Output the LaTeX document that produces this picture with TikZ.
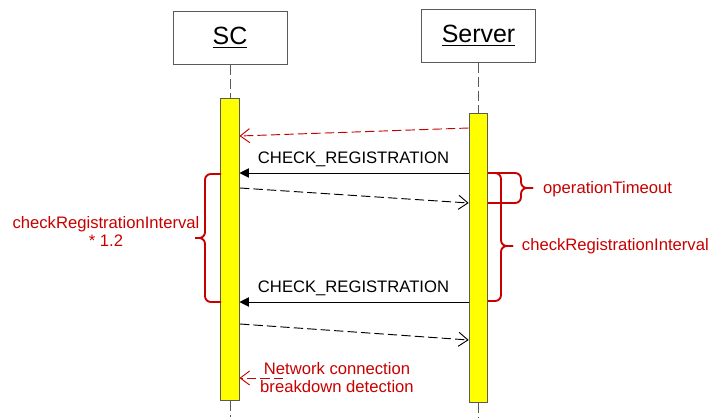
\documentclass[tikz,border=0pt]{standalone}
\usepackage{fontspec}
\setmainfont{Liberation Sans}
\usepackage{tikz}
\usetikzlibrary{arrows.meta, positioning}
\definecolor{rojo}{RGB}{200, 0, 0}
\definecolor{amarillo}{RGB}{255, 255, 0}
\definecolor{gris}{RGB}{90, 90, 90}
\newcommand{\txtfont}{\fontsize{14.2}{16}\selectfont}
\newcommand{\hdrfont}{\fontsize{21.3}{24}\selectfont}
\tikzset{
    obj/.style={draw=gris, fill=white, minimum width=3.42cm, minimum height=1.59cm, font=\hdrfont, line width=0.8pt},
    act/.style={draw=gris, fill=amarillo, minimum width=0.56cm, line width=0.8pt},
    life/.style={gris, dash pattern=on 9pt off 3pt, line width=0.8pt},
    call/.style={-{Triangle[length=8pt, width=8pt]}, line width=0.8pt},
    back/.style={-{Straight Barb[length=8pt, width=12pt]}, dash pattern=on 8pt off 3.5pt, line width=0.8pt},
    alert/.style={back, rojo},
    brc/.style={rojo, line width=1.6pt, rounded corners=5pt},
    lbl/.style={font=\txtfont, inner sep=0pt},
}
\begin{document}
\begin{tikzpicture}[x=0.03cm, y=-0.03cm]
    \useasboundingbox (0,0) rectangle (711,417);

    % lifelines
    \node[obj] (sc) at (230, 37.5) {\underline{SC}};
    \node[obj] (srv) at (478.5, 35.5) {\underline{Server}};
    \node[act, minimum height=9.04cm] (scA) at (230, 249.4) {};
    \node[act, minimum height=8.67cm] (srvA) at (478.5, 257.5) {};
    \coordinate (scEnd) at (230, 417);
    \coordinate (srvEnd) at (478.5, 417);

    \draw[life] (sc) -- (scA);
    \draw[life] (scA) -- (scEnd);
    \draw[life] (srv) -- (srvA);
    \draw[life] (srvA) -- (srvEnd);

    % messages
    \coordinate (m0s) at (468.7, 128);
    \coordinate (m0e) at (239.5, 136);
    \coordinate (m1s) at (468.7, 173);
    \coordinate (m1e) at (239.5, 173);
    \coordinate (r1s) at (240, 188);
    \coordinate (r1e) at (468.7, 203);
    \coordinate (m2s) at (468.7, 302);
    \coordinate (m2e) at (239.5, 302);
    \coordinate (r2s) at (240, 324);
    \coordinate (r2e) at (468.7, 340);
    \coordinate (n0s) at (283, 378);
    \coordinate (n0e) at (239.5, 378);

    \draw[alert] (m0s) -- (m0e);
    \draw[call] (m1s) -- (m1e);
    \draw[back] (r1s) -- (r1e);
    \draw[call] (m2s) -- (m2e);
    \draw[back] (r2s) -- (r2e);
    \draw[alert] (n0s) -- (n0e);

    \node[lbl, anchor=base] (chk1) at (353.5, 163.3) {CHECK\_REGISTRATION};
    \node[lbl, anchor=base] (chk2) at (353.5, 292.7) {CHECK\_REGISTRATION};

    % braces
    \draw[brc] (221, 174) -- (205, 174) -- (205, 238) -- (195, 238);
    \draw[brc] (221, 302) -- (205, 302) -- (205, 238) -- (195, 238);
    \draw[brc] (488, 173) -- (521, 173) -- (521, 188) -- (533, 188);
    \draw[brc] (488, 203) -- (521, 203) -- (521, 188) -- (533, 188);
    \draw[brc] (488, 173) -- (501, 173) -- (501, 246) -- (513, 246);
    \draw[brc] (488, 301) -- (501, 301) -- (501, 246) -- (513, 246);

    \node[lbl, text=rojo, align=center] (chkL) at (106, 231.4) {checkRegistrationInterval\\* 1.2};
    \node[lbl, text=rojo, anchor=base west] (opT) at (543, 193.3) {operationTimeout};
    \node[lbl, text=rojo, anchor=base west] (chkR) at (521.7, 250.7) {checkRegistrationInterval};
    \node[lbl, text=rojo, align=center] (net) at (337, 377.5) {Network connection\\breakdown detection};
\end{tikzpicture}
\end{document}
